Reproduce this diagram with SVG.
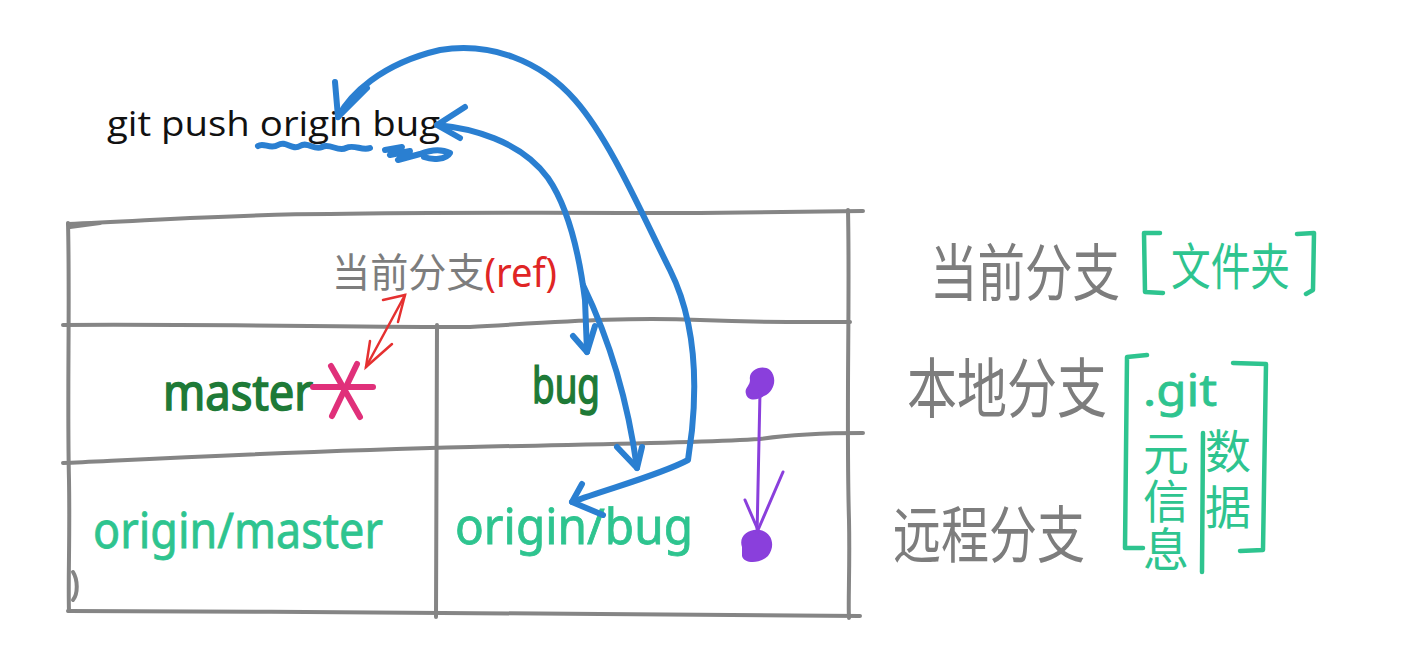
<svg xmlns="http://www.w3.org/2000/svg" width="1403" height="667" viewBox="0 0 1403 667">
<defs>
<style>
.grid{fill:none;stroke:#858585;stroke-width:4;stroke-linecap:round;stroke-linejoin:round}
.blue{fill:none;stroke:#2a7fd1;stroke-width:6;stroke-linecap:round;stroke-linejoin:round}
.teal{fill:none;stroke:#2ec48f;stroke-width:4.5;stroke-linecap:round;stroke-linejoin:round}
.lat{font-family:"Noto Sans","Liberation Sans",sans-serif}
.cjk{font-family:"Noto Sans CJK SC","Noto Sans",sans-serif}
.gray{fill:#7d7d7d}
.dg{fill:#1e7a37;stroke:#1e7a37;stroke-width:1.6}
.tl{fill:#2ec48f}
.tls{fill:#2ec48f;stroke:#2ec48f;stroke-width:0.8}
.vert{writing-mode:vertical-rl}
</style>
</defs>
<rect width="1403" height="667" fill="#ffffff"/>

<g id="table">
<path class="grid" d="M68,224 C160,220 240,214 330,214 C450,212 600,213 700,213 C780,212 830,211 863,211"/>
<path class="grid" d="M70,227 L100,223"/>
<path class="grid" d="M63,325 C200,324 350,327 470,327 C560,322 620,317 700,320 C780,323 820,322 850,322"/>
<path class="grid" d="M63,463 C150,459 300,451 470,447 C600,444 700,443 760,439 C800,433 840,433 863,433"/>
<path class="grid" d="M68,611 C250,611 400,613 600,614 C700,615 800,616 860,616"/>
<path class="grid" d="M68,223 C70,300 67,400 69,480 C70,540 68,580 69,611"/>
<path class="grid" d="M73,572 C78,580 78,594 73,600"/>
<path class="grid" d="M437,325 C436,400 437,500 436,617"/>
<path class="grid" d="M848,210 C850,300 846,420 849,520 C850,570 848,600 849,618"/>
</g>

<g id="n-cmd">
<text x="107" y="136" font-size="35" fill="#111111" textLength="333" lengthAdjust="spacingAndGlyphs" style="font-family:'Open Sans','Noto Sans',sans-serif">git push origin bug</text>
<path class="blue" d="M258,146 C264,142 270,150 278,145 C286,140 292,151 300,146 C308,141 314,151 322,147 C330,143 338,152 346,148 C354,144 362,151 370,148"/>
<path class="blue" d="M385,150 L402,147 L390,155 L410,151 L398,160 L420,154 C430,150 440,148 450,153 C446,160 432,160 424,157"/>
</g>

<g id="n-current">
<text class="cjk gray" x="332" y="287" font-size="40" textLength="225" lengthAdjust="spacingAndGlyphs">当前分支<tspan fill="#e02525" style="font-family:'Noto Sans',sans-serif">(ref)</tspan></text>
</g>

<g id="n-master">
<text class="lat dg" x="163" y="410" font-size="50" textLength="150" lengthAdjust="spacingAndGlyphs">master</text>
<g fill="none" stroke="#e0307a" stroke-width="6" stroke-linecap="round">
<path d="M313,387 L373,387"/>
<path d="M331,366 L360,417"/>
<path d="M357,364 L332,416"/>
</g>
</g>

<g id="n-bug">
<text class="lat dg" x="532" y="403" font-size="50" textLength="68" lengthAdjust="spacingAndGlyphs">bug</text>
</g>

<g id="n-origin-master">
<text class="lat tls" x="93" y="548" font-size="50" textLength="290" lengthAdjust="spacingAndGlyphs">origin/master</text>
</g>

<g id="n-origin-bug">
<text class="lat tls" x="455" y="544" font-size="50" textLength="238" lengthAdjust="spacingAndGlyphs">origin/bug</text>
</g>

<g id="n-purple">
<path d="M750,380 C748,370 762,364 770,370 C778,378 774,392 764,396 C758,400 748,402 746,394 C744,388 750,386 750,380 Z" fill="#8a3fdc"/>
<path d="M742,547 C738,535 750,528 760,530 C772,532 776,546 768,556 C760,564 744,564 742,556 Z" fill="#8a3fdc"/>
</g>

<g id="n-label-current">
<text class="cjk gray" transform="translate(930,296) scale(1,1.3)" x="0" y="0" font-size="48" textLength="190" lengthAdjust="spacingAndGlyphs">当前分支</text>
<path class="teal" d="M1160,233 L1144,233 L1145,292 L1163,293"/>
<text class="cjk tl" transform="translate(1171,285) scale(1,1.25)" x="0" y="0" font-size="40" textLength="119" lengthAdjust="spacingAndGlyphs">文件夹</text>
<path class="teal" d="M1297,234 L1314,233 L1313,290 L1306,294"/>
</g>

<g id="n-label-local">
<text class="cjk gray" transform="translate(907,412) scale(1,1.3)" x="0" y="0" font-size="50" textLength="200" lengthAdjust="spacingAndGlyphs">本地分支</text>
</g>

<g id="n-label-remote">
<text class="cjk gray" transform="translate(893,558) scale(1,1.3)" x="0" y="0" font-size="48" textLength="192" lengthAdjust="spacingAndGlyphs">远程分支</text>
</g>

<g id="n-label-git">
<path class="teal" d="M1147,355 L1127,357 L1125,548 L1143,548"/>
<path class="teal" d="M1233,363 L1266,364 L1263,550 L1240,551"/>
<text class="lat tls" x="1143" y="406" font-size="44" textLength="74" lengthAdjust="spacingAndGlyphs">.git</text>
<text class="cjk tl vert" x="1166" y="430" font-size="46" letter-spacing="2">元信息</text>
<path class="teal" d="M1203,433 L1202,572"/>
<text class="cjk tl vert" x="1228" y="428" font-size="46" letter-spacing="10">数据</text>
</g>

<g id="connectors">
<path class="blue" d="M338,117 C350,95 380,64 440,50 C490,42 540,60 575,100 C610,140 640,210 670,270 C695,320 697,380 692,430 L688,460 C660,475 610,488 572,502"/>
<path class="blue" d="M335,82 L338,117 L367,88"/>
<path class="blue" d="M582,484 L572,502 L603,515"/>
<path class="blue" d="M437,125 C470,128 520,140 548,178 C570,210 580,260 585,300 L587,352"/>
<path class="blue" d="M465,107 L437,125 L460,138"/>
<path class="blue" d="M573,336 L587,352 L595,326"/>
<path class="blue" d="M583,285 C600,320 625,380 637,468"/>
<path class="blue" d="M617,447 L637,468 L642,447"/>
<g fill="none" stroke="#e53030" stroke-width="2.5" stroke-linecap="round">
<path d="M366,367 L405,295"/>
<path d="M383,300 L405,295 L398,322"/>
<path d="M370,341 L366,367 L392,344"/>
</g>
<g fill="none" stroke="#8a3fdc" stroke-width="3" stroke-linecap="round">
<path d="M760,392 L757,536"/>
<path d="M783,472 L758,530 L745,500"/>
</g>
</g>
</svg>
